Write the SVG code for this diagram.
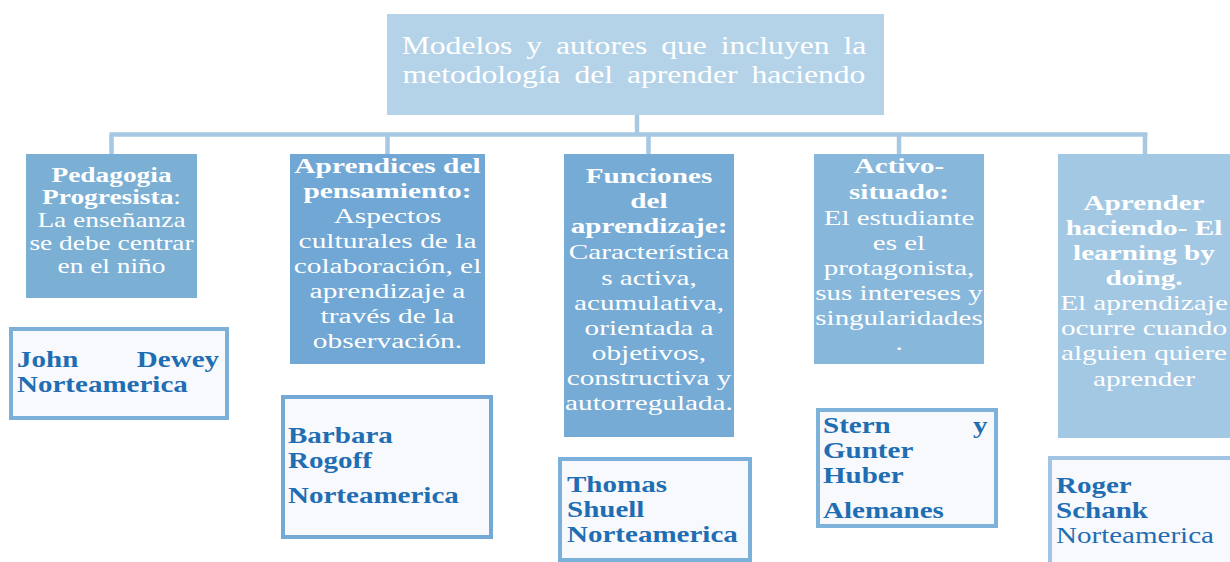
<svg xmlns="http://www.w3.org/2000/svg" width="1230" height="562" viewBox="0 0 1230 562">
<style>
.t{font-family:"Liberation Serif","Times New Roman",serif;font-size:20px;fill:#ffffff;text-anchor:middle}
.b{font-weight:bold}
.title{font-family:"Liberation Serif","Times New Roman",serif;font-size:26px;fill:#ffffff;text-anchor:middle;word-spacing:5px}
.a{font-family:"Liberation Serif","Times New Roman",serif;font-size:24px;font-weight:bold;fill:#1f6db3}
.a.n{font-weight:normal}
.auth{fill:#f7f9fc;stroke-width:4}
.conn{stroke:#a6c8e2;stroke-width:4.5;fill:none}
</style>
<rect width="1230" height="562" fill="#ffffff"/>
<g id="connectors">
<line class="conn" x1="637" y1="115" x2="637" y2="134.5"/>
<line class="conn" x1="109.5" y1="134.5" x2="1147.5" y2="134.5"/>
<line class="conn" x1="111.5" y1="134.5" x2="111.5" y2="154"/>
<line class="conn" x1="387.5" y1="134.5" x2="387.5" y2="154"/>
<line class="conn" x1="648.5" y1="134.5" x2="648.5" y2="154"/>
<line class="conn" x1="899" y1="134.5" x2="899" y2="154"/>
<line class="conn" x1="1145" y1="134.5" x2="1145" y2="154"/>
</g>
<g id="title">
<rect x="387" y="14" width="497" height="101" fill="#b5d3e8"/>
<g transform="translate(634 0) scale(1.215 1)">
<text class="title" x="0" y="54">Modelos y autores que incluyen la</text>
<text class="title" x="0" y="83">metodología del aprender haciendo</text>
</g>
</g>
<g id="node1">
<rect x="26" y="154" width="171" height="144" fill="#7bafd4"/>
<g transform="translate(111.5 0) scale(1.37 1)">
<text class="t b" x="0" y="182">Pedagogia</text>
<text class="t" x="0" y="204"><tspan class="b">Progresista</tspan>:</text>
<text class="t" x="0" y="227">La enseñanza</text>
<text class="t" x="0" y="250">se debe centrar</text>
<text class="t" x="0" y="273">en el niño</text>
</g>
</g>
<g id="node2">
<rect x="290" y="154" width="195" height="210" fill="#70a7d5"/>
<g transform="translate(387.5 0) scale(1.47 1)">
<text class="t b" x="0" y="173">Aprendices del</text>
<text class="t b" x="0" y="198">pensamiento:</text>
<text class="t" x="0" y="223">Aspectos</text>
<text class="t" x="0" y="248">culturales de la</text>
<text class="t" x="0" y="273">colaboración, el</text>
<text class="t" x="0" y="298">aprendizaje a</text>
<text class="t" x="0" y="323">través de la</text>
<text class="t" x="0" y="348">observación.</text>
</g>
</g>
<g id="node3">
<rect x="564" y="154" width="170" height="283" fill="#76abd6"/>
<g transform="translate(649 0) scale(1.46 1)">
<text class="t b" x="0" y="183">Funciones</text>
<text class="t b" x="0" y="208">del</text>
<text class="t b" x="0" y="233">aprendizaje:</text>
<text class="t" x="0" y="259">Característica</text>
<text class="t" x="0" y="285">s activa,</text>
<text class="t" x="0" y="310">acumulativa,</text>
<text class="t" x="0" y="335">orientada a</text>
<text class="t" x="0" y="360">objetivos,</text>
<text class="t" x="0" y="385">constructiva y</text>
<text class="t" x="0" y="410">autorregulada.</text>
</g>
</g>
<g id="node4">
<rect x="814" y="154" width="170" height="210" fill="#88b7dc"/>
<g transform="translate(899 0) scale(1.45 1)">
<text class="t b" x="0" y="173">Activo-</text>
<text class="t b" x="0" y="199">situado:</text>
<text class="t" x="0" y="225">El estudiante</text>
<text class="t" x="0" y="250">es el</text>
<text class="t" x="0" y="275">protagonista,</text>
<text class="t" x="0" y="300">sus intereses y</text>
<text class="t" x="0" y="325">singularidades</text>
<text class="t" x="0" y="350">.</text>
</g>
</g>
<g id="node5">
<rect x="1058" y="154" width="172" height="284" fill="#a3c8e4"/>
<g transform="translate(1144 0) scale(1.46 1)">
<text class="t b" x="0" y="210">Aprender</text>
<text class="t b" x="0" y="235">haciendo- El</text>
<text class="t b" x="0" y="260">learning by</text>
<text class="t b" x="0" y="285">doing.</text>
<text class="t" x="0" y="310">El aprendizaje</text>
<text class="t" x="0" y="335">ocurre cuando</text>
<text class="t" x="0" y="360">alguien quiere</text>
<text class="t" x="0" y="386">aprender</text>
</g>
</g>
<g id="author1">
<rect class="auth" x="11" y="329" width="216" height="89" stroke="#7db0d8"/>
<g transform="translate(17 0) scale(1.21 1)">
<text class="a" x="0" y="367">John</text>
<text class="a" x="167" y="367" text-anchor="end">Dewey</text>
<text class="a" x="0" y="392">Norteamerica</text>
</g>
</g>
<g id="author2">
<rect class="auth" x="283" y="397" width="208" height="140" stroke="#74a9d6"/>
<g transform="translate(288 0) scale(1.21 1)">
<text class="a" x="0" y="443">Barbara</text>
<text class="a" x="0" y="468">Rogoff</text>
<text class="a" x="0" y="503">Norteamerica</text>
</g>
</g>
<g id="author3">
<rect class="auth" x="560" y="459" width="190" height="101" stroke="#7bb0da"/>
<g transform="translate(567 0) scale(1.21 1)">
<text class="a" x="0" y="492">Thomas</text>
<text class="a" x="0" y="517">Shuell</text>
<text class="a" x="0" y="542">Norteamerica</text>
</g>
</g>
<g id="author4">
<rect class="auth" x="818" y="410" width="178" height="116" stroke="#7fb2da"/>
<g transform="translate(823 0) scale(1.21 1)">
<text class="a" x="0" y="433">Stern</text>
<text class="a" x="136" y="433" text-anchor="end">y</text>
<text class="a" x="0" y="458">Gunter</text>
<text class="a" x="0" y="483">Huber</text>
<text class="a" x="0" y="518">Alemanes</text>
</g>
</g>
<g id="author5">
<rect class="auth" x="1050" y="458" width="200" height="120" stroke="#a0c4e2"/>
<g transform="translate(1056 0) scale(1.21 1)">
<text class="a" x="0" y="493">Roger</text>
<text class="a" x="0" y="518">Schank</text>
<text class="a n" x="0" y="543">Norteamerica</text>
</g>
</g>
</svg>
